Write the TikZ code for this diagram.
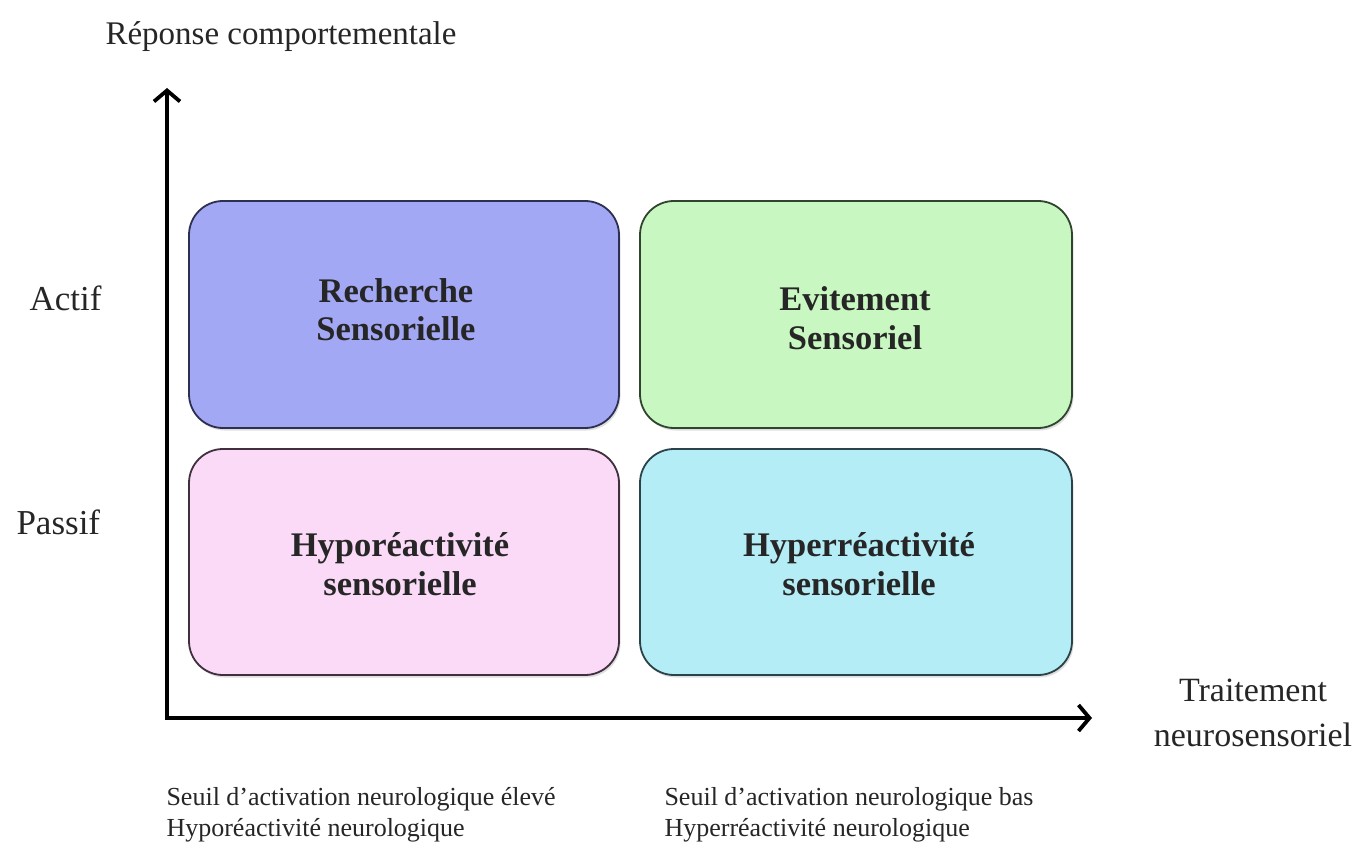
\documentclass[tikz,border=0pt]{standalone}
\usepackage{fontspec}
\setmainfont{Liberation Serif}
\usetikzlibrary{arrows.meta,shadows}
\definecolor{cblue}{HTML}{A2A8F4}
\definecolor{cgreen}{HTML}{C9F7C1}
\definecolor{cpink}{HTML}{FBDAF8}
\definecolor{ccyan}{HTML}{B5EDF7}
\definecolor{edgeblue}{HTML}{2E3052}
\definecolor{edgegreen}{HTML}{2F452F}
\definecolor{edgepink}{HTML}{40303E}
\definecolor{edgecyan}{HTML}{2A4248}
\begin{document}
\begin{tikzpicture}[x=1pt,y=-1pt,
  quad/.style={rounded corners=34pt, line width=1.8pt, draw=#1,
    drop shadow={shadow xshift=1.5pt, shadow yshift=-2.5pt, opacity=0.25},
    minimum height=227pt, inner sep=0pt},
  boxtxt/.style={anchor=base, font=\fontsize{34.5}{38}\selectfont\bfseries, text=black!85},
  lab/.style={anchor=base west, font=\fontsize{33}{38}\selectfont, text=black!85},
  botlab/.style={anchor=base west, font=\fontsize{26}{30}\selectfont, text=black!85},
  axis/.style={line width=3.8pt, line join=miter, {Straight Barb[length=11pt,width=26pt]}-{Straight Barb[length=11pt,width=26pt]}}]
\fill[white] (0,0) rectangle (1371,842);
\useasboundingbox (0,0) rectangle (1371,842);

% boxes
\node[quad=edgeblue, fill=cblue, minimum width=430pt] (b1) at (404,314.5) {};
\node[quad=edgegreen, fill=cgreen, minimum width=432pt] (b2) at (856,314.5) {};
\node[quad=edgepink, fill=cpink, minimum width=430pt, minimum height=226pt] (b3) at (404,562) {};
\node[quad=edgecyan, fill=ccyan, minimum width=432pt, minimum height=226pt] (b4) at (856,562) {};

% box texts
\node[boxtxt] (t1a) at (396,303) {Recherche};
\node[boxtxt] (t1b) at (396,341) {Sensorielle};
\node[boxtxt] (t2a) at (855,311) {Evitement};
\node[boxtxt] (t2b) at (855,349) {Sensoriel};
\node[boxtxt] (t3a) at (400,556) {Hyporéactivité};
\node[boxtxt] (t3b) at (400,595) {sensorielle};
\node[boxtxt] (t4a) at (859,556) {Hyperréactivité};
\node[boxtxt] (t4b) at (859,595) {sensorielle};

% axes
\coordinate (o) at (167,718);
\coordinate (ytip) at (167,88);
\coordinate (xtip) at (1092,718);
\draw[axis] (ytip) -- (o) -- (xtip);

% labels
\node[lab] (ylab) at (102,45) {Réponse comportementale};
\node[lab, font=\fontsize{35}{40}\selectfont] (actif) at (26,311) {Actif};
\node[lab, font=\fontsize{35}{40}\selectfont] (passif) at (13,534) {Passif};
\node[lab, anchor=base, font=\fontsize{34}{40}\selectfont] (xlab1) at (1253,701) {Traitement};
\node[lab, anchor=base, font=\fontsize{34}{40}\selectfont] (xlab2) at (1253,746) {neurosensoriel};

\node[botlab] (l1) at (163,805) {Seuil d’activation neurologique élevé};
\node[botlab] (l2) at (163,836) {Hyporéactivité neurologique};
\node[botlab] (r1) at (661,805) {Seuil d’activation neurologique bas};
\node[botlab] (r2) at (661,836) {Hyperréactivité neurologique};
\end{tikzpicture}
\end{document}
